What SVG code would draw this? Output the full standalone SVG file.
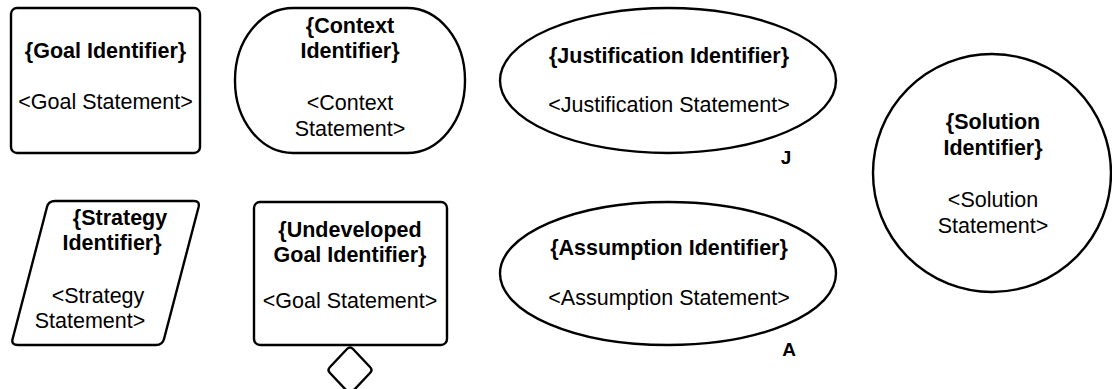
<svg xmlns="http://www.w3.org/2000/svg" width="1112" height="389" viewBox="0 0 1112 389">
  <style>
    .shape { fill: #ffffff; stroke: #000000; stroke-width: 2.4; stroke-linejoin: round; }
    text { font-family: "Liberation Sans", Arial, sans-serif; font-size: 21.5px; fill: #000000; text-anchor: middle; }
    .id { font-weight: bold; }
    .tag { font-weight: bold; font-size: 19px; }
  </style>
  <rect width="1112" height="389" fill="#ffffff"/>

  <!-- Goal -->
  <g id="goal">
    <rect class="shape" x="11" y="8" width="189" height="145" rx="6" ry="6"/>
    <text class="id" x="105.5" y="58">{Goal Identifier}</text>
    <text x="105.5" y="109">&lt;Goal Statement&gt;</text>
  </g>

  <!-- Context -->
  <g id="context">
    <rect class="shape" x="235" y="8" width="230" height="145" rx="58" ry="72"/>
    <text class="id" x="350" y="33">{Context</text>
    <text class="id" x="350" y="58">Identifier}</text>
    <text x="350" y="110">&lt;Context</text>
    <text x="350" y="136">Statement&gt;</text>
  </g>

  <!-- Justification -->
  <g id="justification">
    <ellipse class="shape" cx="668" cy="80.5" rx="168" ry="72.5"/>
    <text class="id" x="669" y="63">{Justification Identifier}</text>
    <text x="669" y="112">&lt;Justification Statement&gt;</text>
    <text class="tag" x="786" y="164">J</text>
  </g>

  <!-- Solution -->
  <g id="solution">
    <circle class="shape" cx="992" cy="173" r="119"/>
    <text class="id" x="993" y="129">{Solution</text>
    <text class="id" x="993" y="155">Identifier}</text>
    <text x="993" y="207">&lt;Solution</text>
    <text x="993" y="233">Statement&gt;</text>
  </g>

  <!-- Strategy -->
  <g id="strategy">
    <path class="shape" d="M55,201 L194,201 Q200,201 198.6,207 L164,339 Q162.5,345 156,345 L18,345 Q11,345 12.6,339 L47,207 Q48.5,201 55,201 Z"/>
    <text class="id" x="120" y="225">{Strategy</text>
    <text class="id" x="112" y="250">Identifier}</text>
    <text x="98" y="303">&lt;Strategy</text>
    <text x="90" y="328">Statement&gt;</text>
  </g>

  <!-- Undeveloped goal -->
  <g id="undeveloped-goal">
    <rect class="shape" x="254" y="202" width="193" height="143" rx="6" ry="6"/>
    <text class="id" x="350" y="237">{Undeveloped</text>
    <text class="id" x="350" y="262">Goal Identifier}</text>
    <text x="350" y="308">&lt;Goal Statement&gt;</text>
    <path class="shape" d="M347,349 Q350,346 353,349 L370,367 Q373,370 370,373 L353,391 Q350,394 347,391 L330,373 Q327,370 330,367 Z"/>
  </g>

  <!-- Assumption -->
  <g id="assumption">
    <ellipse class="shape" cx="668" cy="273.5" rx="168" ry="71.5"/>
    <text class="id" x="669" y="255">{Assumption Identifier}</text>
    <text x="669" y="305">&lt;Assumption Statement&gt;</text>
    <text class="tag" x="789" y="356">A</text>
  </g>

  <g id="connectors"/>
</svg>
